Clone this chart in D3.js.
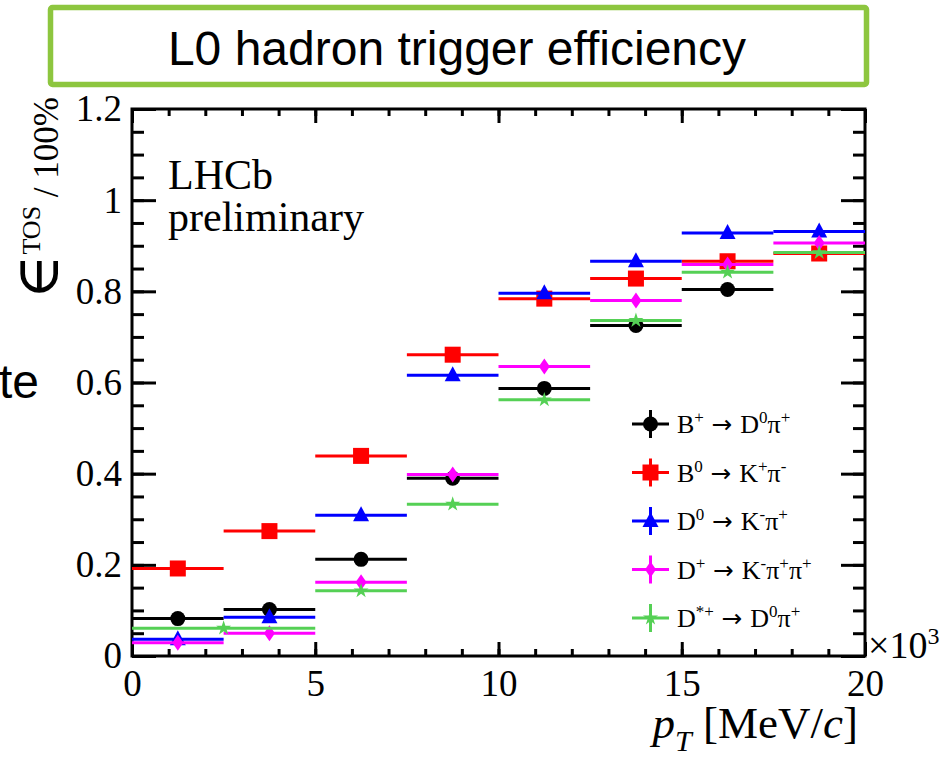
<!DOCTYPE html>
<html>
<head>
<meta charset="utf-8">
<script src="https://cdn.jsdelivr.net/npm/d3@7"></script>
<style>
  html, body { margin: 0; padding: 0; background: #fff; }
  svg { display: block; }
</style>
</head>
<body>
<svg id="chart" width="944" height="759"></svg>
<script>
// Bin edges in pT (units of 10^3 MeV/c)
const binEdges = [0, 2.5, 5, 7.5, 10, 12.5, 15, 17.5, 20];
const dstarEdges = [0, 5, 7.5, 10, 12.5, 15, 17.5, 20];

// TOS efficiency per pT bin for each decay channel
const effBplusD0pi = [0.082, 0.102, 0.212, 0.390, 0.587, 0.725, 0.804];
const effB0Kpi = [0.192, 0.274, 0.439, 0.661, 0.784, 0.828, 0.866, 0.883];
const effD0Kpi = [0.037, 0.085, 0.309, 0.616, 0.796, 0.866, 0.928, 0.931];
const effDplusKpipi = [0.029, 0.050, 0.162, 0.398, 0.635, 0.780, 0.859, 0.906];
const effDstarD0pi = [0.061, 0.143, 0.333, 0.562, 0.736, 0.842, 0.885];

// Axis tick values and labels
const xMajorTicks = [0, 5, 10, 15, 20];
const xTickLabels = ["0", "5", "10", "15", "20"];
const yMajorTicks = [0, 0.2, 0.4, 0.6, 0.8, 1.0, 1.2];
const yTickLabels = ["0", "0.2", "0.4", "0.6", "0.8", "1", "1.2"];

const SERIF = "'Liberation Serif', 'Times New Roman', serif";
const SANS = "'Liberation Sans', Arial, sans-serif";
const ARROW = "\u2192";

// Channel names as [text, kind] segments: kind 1 = superscript, 2 = arrow
const series = [
  { name: [["B"], ["+", 1], [ARROW, 2], ["D"], ["0", 1], ["\u03c0"], ["+", 1]], color: "#000000", marker: "circle", edges: binEdges, values: effBplusD0pi },
  { name: [["B"], ["0", 1], [ARROW, 2], ["K"], ["+", 1], ["\u03c0"], ["-", 1]], color: "#ff0000", marker: "square", edges: binEdges, values: effB0Kpi },
  { name: [["D"], ["0", 1], [ARROW, 2], ["K"], ["-", 1], ["\u03c0"], ["+", 1]], color: "#0000ff", marker: "triangle", edges: binEdges, values: effD0Kpi },
  { name: [["D"], ["+", 1], [ARROW, 2], ["K"], ["-", 1], ["\u03c0"], ["+", 1], ["\u03c0"], ["+", 1]], color: "#ff00ff", marker: "diamond", edges: binEdges, values: effDplusKpipi },
  { name: [["D"], ["*+", 1], [ARROW, 2], ["D"], ["0", 1], ["\u03c0"], ["+", 1]], color: "#55d055", marker: "star", edges: dstarEdges, values: effDstarD0pi }
];

const svg = d3.select("#chart");
const x = d3.scaleLinear().domain([0, 20]).range([132, 865]);
const y = d3.scaleLinear().domain([0, 1.2]).range([656, 109]);

// Title banner
svg.append("rect")
  .attr("x", 50.5).attr("y", 7.5).attr("width", 816).attr("height", 77)
  .attr("rx", 2)
  .attr("fill", "none").attr("stroke", "#8dc63f").attr("stroke-width", 5.5);
svg.append("text")
  .attr("x", 457).attr("y", 65)
  .attr("text-anchor", "middle")
  .attr("font-family", SANS).attr("font-size", 48)
  .text("L0 hadron trigger efficiency");

// Leftover slide text at the left edge
svg.append("text")
  .attr("x", -1).attr("y", 398)
  .attr("font-family", SANS).attr("font-size", 48)
  .text("te");

// Axes with inward-pointing ticks
const axisFont = g => g.selectAll("text").attr("font-family", SERIF).attr("font-size", 37).attr("fill", "#000");
const axisStroke = g => {
  g.select(".domain").remove();
  g.selectAll("line").attr("stroke", "#000").attr("stroke-width", 3);
};

svg.append("g").attr("transform", `translate(0,${y(0)})`)
  .call(d3.axisBottom(x).tickValues(d3.range(0, 21, 1)).tickSize(-7).tickFormat(""))
  .call(axisStroke);
svg.append("g").attr("transform", `translate(0,${y(0)})`)
  .call(d3.axisBottom(x).tickValues(xMajorTicks).tickSize(-14).tickPadding(14)
    .tickFormat((d, i) => xTickLabels[i]))
  .call(axisStroke).call(axisFont);

svg.append("g").attr("transform", `translate(0,${y(1.2)})`)
  .call(d3.axisTop(x).tickValues(d3.range(0, 21, 1)).tickSize(-7).tickFormat(""))
  .call(axisStroke);
svg.append("g").attr("transform", `translate(0,${y(1.2)})`)
  .call(d3.axisTop(x).tickValues(xMajorTicks).tickSize(-14).tickFormat(""))
  .call(axisStroke);

svg.append("g").attr("transform", `translate(${x(0)},0)`)
  .call(d3.axisLeft(y).tickValues(d3.range(0, 1.2001, 0.05)).tickSize(-12).tickFormat(""))
  .call(axisStroke);
svg.append("g").attr("transform", `translate(${x(0)},0)`)
  .call(d3.axisLeft(y).tickValues(yMajorTicks).tickSize(-24).tickPadding(10)
    .tickFormat((d, i) => yTickLabels[i]))
  .call(axisStroke).call(axisFont);

svg.append("g").attr("transform", `translate(${x(20)},0)`)
  .call(d3.axisRight(y).tickValues(d3.range(0, 1.2001, 0.05)).tickSize(-12).tickFormat(""))
  .call(axisStroke);
svg.append("g").attr("transform", `translate(${x(20)},0)`)
  .call(d3.axisRight(y).tickValues(yMajorTicks).tickSize(-24).tickFormat(""))
  .call(axisStroke);

// Frame
svg.append("rect")
  .attr("x", x(0)).attr("y", y(1.2))
  .attr("width", x(20) - x(0)).attr("height", y(0) - y(1.2))
  .attr("fill", "none").attr("stroke", "#000").attr("stroke-width", 3);

// Marker shapes
function drawMarker(g, type, cx, cy, color) {
  if (type === "circle") {
    g.append("circle").attr("cx", cx).attr("cy", cy).attr("r", 7.5).attr("fill", color);
  } else if (type === "square") {
    g.append("rect").attr("x", cx - 8).attr("y", cy - 8).attr("width", 16).attr("height", 16).attr("fill", color);
  } else if (type === "triangle") {
    g.append("path").attr("d", `M${cx},${cy - 9}L${cx + 8},${cy + 6}L${cx - 8},${cy + 6}Z`).attr("fill", color);
  } else if (type === "diamond") {
    g.append("path").attr("d", `M${cx},${cy - 8}L${cx + 5.5},${cy}L${cx},${cy + 8}L${cx - 5.5},${cy}Z`).attr("fill", color);
  } else if (type === "star") {
    g.append("path").attr("transform", `translate(${cx},${cy})`)
      .attr("d", d3.symbol(d3.symbolStar, 70)()).attr("fill", color);
  }
}

// Data: horizontal bin-width bars with markers at bin centres
series.forEach(s => {
  const g = svg.append("g");
  s.values.forEach((v, i) => {
    const x0 = s.edges[i], x1 = s.edges[i + 1];
    g.append("line")
      .attr("x1", x(x0)).attr("x2", x(x1))
      .attr("y1", y(v)).attr("y2", y(v))
      .attr("stroke", s.color).attr("stroke-width", 3);
    drawMarker(g, s.marker, x((x0 + x1) / 2), y(v), s.color);
  });
});

// Rich text helper for channel names
function richText(sel, segs, bigSize, supSize, rise) {
  let shifted = false;
  segs.forEach(([t, kind]) => {
    const sup = kind === 1;
    const ts = sel.append("tspan").text(t).attr("font-size", sup ? supSize : bigSize);
    if (kind === 2) {
      ts.text(" " + t + " ").attr("font-family", "'DejaVu Sans', sans-serif").attr("font-size", bigSize * 0.95);
    }
    if (sup && !shifted) { ts.attr("dy", -rise); shifted = true; }
    else if (!sup && shifted) { ts.attr("dy", rise); shifted = false; }
  });
}

// Legend
const legY = [424, 472.5, 521, 569.5, 618];
series.forEach((s, i) => {
  const g = svg.append("g");
  const cy = legY[i];
  g.append("line").attr("x1", 632).attr("x2", 669).attr("y1", cy).attr("y2", cy)
    .attr("stroke", s.color).attr("stroke-width", 3);
  g.append("line").attr("x1", 650.5).attr("x2", 650.5).attr("y1", cy - 14).attr("y2", cy + 14)
    .attr("stroke", s.color).attr("stroke-width", 3);
  drawMarker(g, s.marker, 650.5, cy, s.color);
  const t = g.append("text").attr("x", 677).attr("y", cy + 9)
    .attr("font-family", SERIF).attr("fill", "#000");
  richText(t, s.name, 26, 17, 10);
});

// LHCb label
svg.append("text").attr("x", 168).attr("y", 189)
  .attr("font-family", SERIF).attr("font-size", 42).text("LHCb");
svg.append("text").attr("x", 168).attr("y", 231)
  .attr("font-family", SERIF).attr("font-size", 42).text("preliminary");

// x-axis exponent
const expo = svg.append("text").attr("x", 868).attr("y", 658)
  .attr("font-family", SERIF).attr("font-size", 38);
expo.append("tspan").text("\u00d710");
expo.append("tspan").text("3").attr("font-size", 24).attr("dy", -14);

// x-axis title
const xt = svg.append("text").attr("x", 858).attr("y", 738)
  .attr("text-anchor", "end").attr("font-family", SERIF).attr("font-size", 45);
xt.append("tspan").text("p").attr("font-style", "italic");
xt.append("tspan").text("T").attr("font-style", "italic").attr("font-size", 30).attr("dy", 13);
xt.append("tspan").text(" [MeV/").attr("dy", -13);
xt.append("tspan").text("c").attr("font-style", "italic");
xt.append("tspan").text("]");

// y-axis title
const yt = svg.append("text")
  .attr("transform", "translate(58,97) rotate(-90)")
  .attr("text-anchor", "end").attr("font-family", SERIF).attr("font-size", 35);
yt.append("tspan").text("\u2208").attr("font-family", "'DejaVu Serif', serif").attr("font-size", 60);
yt.append("tspan").text("TOS").attr("font-size", 26).attr("dy", -18);
yt.append("tspan").text(" / 100%").attr("dy", 18);
</script>
</body>
</html>
